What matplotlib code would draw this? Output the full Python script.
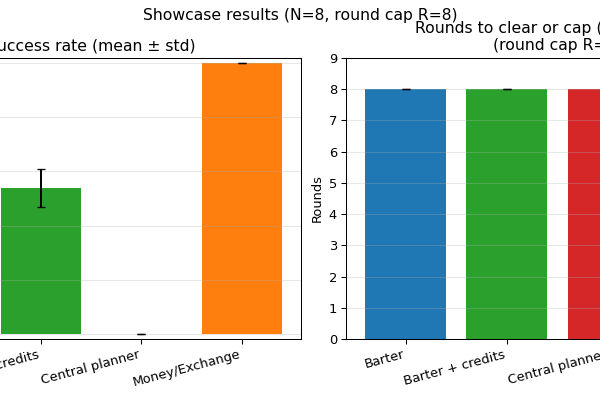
import matplotlib
matplotlib.use("Agg")
import matplotlib.pyplot as plt
import numpy as np

# Data
methods = ["Barter", "Barter + credits", "Central planner", "Money/Exchange"]
colors = ["#1f77b4", "#2ca02c", "#d62728", "#ff7f0e"]

success_mean = [0.0, 0.54, 0.0, 1.0]
success_std = [0.0, 0.07, 0.0, 0.0]

rounds_mean = [8.0, 8.0, 8.0, 2.0]
rounds_std = [0.0, 0.0, 0.0, 0.0]

round_cap = 8
n_runs = 8

# slightly lower dpi so the text comes out at the reference's size
dpi = 93.75
fig = plt.figure(figsize=(600 / dpi, 400 / dpi), dpi=dpi)
# the reference is a crop of a wider figure, so the axes run past the edges
ax1 = fig.add_axes([-0.1983, 0.1525, 0.70, 0.7025])
ax2 = fig.add_axes([0.5767, 0.1525, 0.705, 0.7025])

x = np.arange(len(methods))

ax1.bar(x, success_mean, yerr=success_std, color=colors, capsize=3)
ax1.set_xticks(x)
ax1.set_xticklabels(methods, rotation=15, ha="right")
ax1.set_ylim(-0.02, 1.02)
ax1.set_ylabel("Success rate")
ax1.set_title("Success rate (mean \u00b1 std)")
ax1.grid(axis="y", alpha=0.3)

ax2.bar(x, rounds_mean, yerr=rounds_std, color=colors, capsize=3)
ax2.set_xticks(x)
ax2.set_xticklabels(methods, rotation=15, ha="right")
ax2.set_ylim(0, round_cap + 1)
ax2.set_ylabel("Rounds")
ax2.set_title(f"Rounds to clear or cap (mean \u00b1 std)\n(round cap R={round_cap})")
ax2.grid(axis="y", alpha=0.3)

fig.suptitle(f"Showcase results (N={n_runs}, round cap R={round_cap})")

fig.savefig("out.png", dpi=dpi)
